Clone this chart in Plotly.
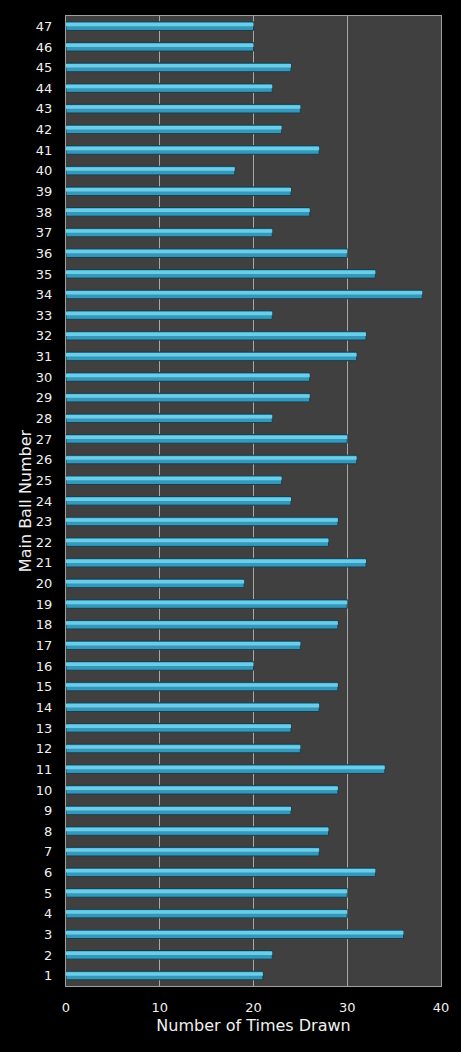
import plotly.graph_objects as go

# ball numbers 1..47 and how often each was drawn
ball_numbers = list(range(1, 48))
times_drawn = [21, 22, 36, 30, 30, 33, 27, 28, 24, 29,
               34, 25, 24, 27, 29, 20, 25, 29, 30, 19,
               32, 28, 29, 24, 23, 31, 30, 22, 26, 26,
               31, 32, 22, 38, 33, 30, 22, 26, 24, 18,
               27, 23, 25, 22, 24, 20, 20]
x_ticks = [0, 10, 20, 30, 40]

FONT = "DejaVu Sans"


def main() -> None:
    fig = go.Figure()

    # base bar (darker body + dark edge)
    fig.add_trace(go.Bar(
        x=times_drawn, y=ball_numbers, orientation="h",
        width=0.42, offset=-0.2,
        marker=dict(color="#3598bb", line=dict(color="#173f4d", width=1)),
        hoverinfo="x+y", showlegend=False,
    ))
    # highlight strip on the upper half to fake the bevel
    fig.add_trace(go.Bar(
        x=times_drawn, y=ball_numbers, orientation="h",
        width=0.17, offset=0.0,
        marker=dict(color="#6ccde8", line=dict(width=0)),
        hoverinfo="skip", showlegend=False,
    ))

    fig.update_layout(
        width=461, height=1052,
        margin=dict(l=66, r=20, t=16, b=66),
        paper_bgcolor="black",
        plot_bgcolor="#404040",
        barmode="overlay",
        font=dict(family=FONT, color="#f0f0f0", size=13),
    )
    fig.update_xaxes(
        range=[0, 40], tickvals=x_ticks,
        showgrid=True, gridcolor="#a8a8a8", gridwidth=1,
        zeroline=False,
        showline=True, linecolor="#a0a0a0", linewidth=1, mirror=True,
        ticks="outside", ticklen=9, tickcolor="rgba(0,0,0,0)",
        tickfont=dict(size=13),
        title=dict(text="Number of Times Drawn", font=dict(size=16), standoff=6),
    )
    fig.update_yaxes(
        range=[0.5, 47.5], tickvals=ball_numbers,
        showgrid=False, zeroline=False,
        showline=True, linecolor="#a0a0a0", linewidth=1, mirror=True,
        ticks="outside", ticklen=10, tickcolor="rgba(0,0,0,0)",
        tickfont=dict(size=13),
        title=dict(text="Main Ball Number", font=dict(size=16), standoff=0),
    )

    # page body has a white 8px margin by default; make it black and flush
    fig.write_html(
        "out.html",
        config={"displayModeBar": False},
        post_script="document.body.style.margin='0';"
                    "document.body.style.background='black';",
    )


if __name__ == "__main__":
    main()
